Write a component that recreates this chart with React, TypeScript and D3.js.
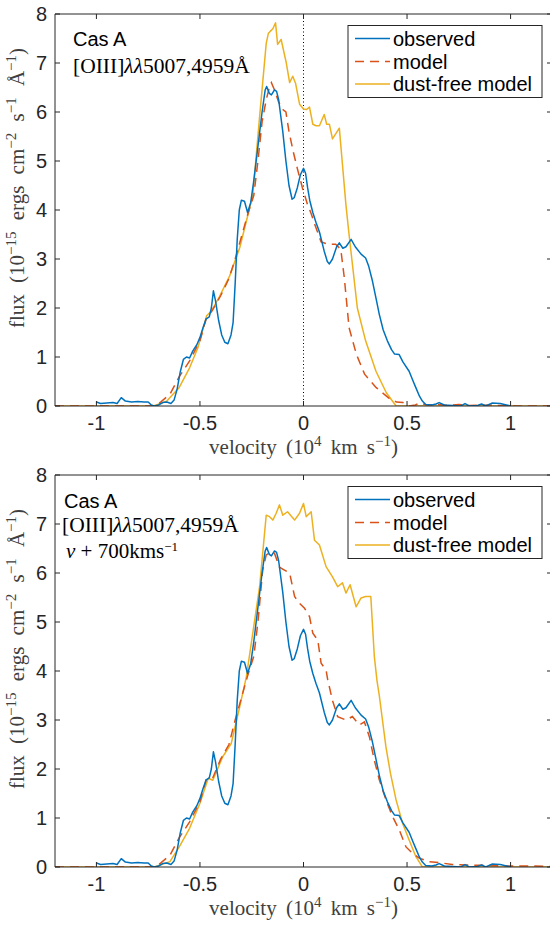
import React from "react";
import * as d3 from "d3";

type P = [number, number];

// velocity (1e4 km/s), flux (1e-15 ergs cm^-2 s^-1 A^-1)
const observed: P[] = [
  [-1.0, 0.08], [-0.98, 0.05], [-0.95, 0.06], [-0.92, 0.07], [-0.9, 0.05], [-0.88, 0.17], [-0.86, 0.1],
  [-0.83, 0.08], [-0.8, 0.09], [-0.77, 0.08], [-0.75, 0.08], [-0.735, 0.02], [-0.72, 0.0], [-0.7, 0.02],
  [-0.68, 0.07], [-0.66, 0.08], [-0.64, 0.05], [-0.625, 0.12], [-0.61, 0.35], [-0.595, 0.7], [-0.58, 0.95],
  [-0.565, 1.0], [-0.55, 0.98], [-0.535, 1.12], [-0.515, 1.25], [-0.5, 1.4], [-0.485, 1.6], [-0.47, 1.78],
  [-0.455, 1.82], [-0.445, 2.0], [-0.435, 2.35], [-0.425, 2.15], [-0.41, 1.75], [-0.395, 1.45], [-0.38, 1.3],
  [-0.365, 1.27], [-0.35, 1.45], [-0.34, 1.7], [-0.33, 2.5], [-0.32, 3.4], [-0.31, 4.0], [-0.3, 4.2],
  [-0.285, 4.18], [-0.27, 3.95], [-0.255, 4.15], [-0.24, 4.6], [-0.22, 5.3], [-0.2, 6.0], [-0.185, 6.45],
  [-0.178, 6.52], [-0.165, 6.38], [-0.155, 6.35], [-0.14, 6.45], [-0.13, 6.42], [-0.12, 6.25], [-0.1, 5.6],
  [-0.085, 5.0], [-0.07, 4.5], [-0.055, 4.22], [-0.045, 4.25], [-0.03, 4.45], [-0.015, 4.72], [0.0, 4.85],
  [0.01, 4.75], [0.02, 4.45], [0.03, 4.2], [0.045, 3.95], [0.06, 3.75], [0.077, 3.55], [0.1, 3.16],
  [0.115, 2.95], [0.125, 2.9], [0.14, 3.0], [0.16, 3.25], [0.173, 3.33], [0.19, 3.22], [0.205, 3.25],
  [0.23, 3.4], [0.25, 3.25], [0.278, 3.1], [0.3, 3.02], [0.315, 2.85], [0.333, 2.55], [0.35, 2.2],
  [0.366, 1.87], [0.385, 1.55], [0.405, 1.33], [0.425, 1.15], [0.44, 1.06], [0.462, 1.05], [0.48, 0.9],
  [0.51, 0.71], [0.53, 0.5], [0.543, 0.37], [0.56, 0.2], [0.574, 0.1], [0.59, 0.03], [0.62, 0.02],
  [0.64, 0.04], [0.655, 0.07], [0.68, 0.02], [0.72, 0.01], [0.76, 0.0], [0.78, 0.05], [0.8, 0.0],
  [0.84, 0.01], [0.86, 0.04], [0.88, 0.0], [0.91, 0.06], [0.95, 0.05], [0.98, 0.02], [1.0, 0.0],
];

const modelTop: P[] = [
  [-1.2, 0], [-0.72, 0], [-0.69, 0.08], [-0.645, 0.24], [-0.6, 0.6], [-0.55, 0.92], [-0.5, 1.33],
  [-0.47, 1.78], [-0.44, 1.95], [-0.4, 2.25], [-0.36, 2.6], [-0.33, 3.0], [-0.3, 3.45], [-0.27, 3.9],
  [-0.24, 4.3], [-0.22, 5.0], [-0.2, 5.8], [-0.18, 6.25], [-0.165, 6.5], [-0.155, 6.6], [-0.14, 6.45],
  [-0.12, 6.2], [-0.1, 6.05], [-0.085, 6.0], [-0.07, 5.6], [-0.05, 5.2], [-0.03, 4.85], [-0.005, 4.45],
  [0.02, 4.1], [0.035, 3.95], [0.055, 3.7], [0.085, 3.35], [0.12, 3.3], [0.155, 3.3], [0.18, 3.2],
  [0.197, 2.62], [0.22, 1.6], [0.255, 1.06], [0.295, 0.65], [0.35, 0.38], [0.415, 0.15], [0.45, 0.08],
  [0.48, 0.07], [0.51, 0.0], [0.54, 0.02], [0.56, 0.06], [0.6, 0.02], [0.65, 0.03], [0.7, 0.01],
  [0.75, 0.03], [0.8, 0.01], [0.9, 0.02], [1.0, 0.0], [1.2, 0.0],
];

const dustFreeTop: P[] = [
  [-1.2, 0], [-0.725, 0], [-0.66, 0.1], [-0.6, 0.38], [-0.55, 0.78], [-0.51, 1.19], [-0.468, 1.84],
  [-0.444, 1.94], [-0.405, 2.24], [-0.357, 2.65], [-0.308, 3.23], [-0.276, 3.77], [-0.245, 4.3],
  [-0.212, 5.9], [-0.18, 7.4], [-0.17, 7.6], [-0.16, 7.65], [-0.148, 7.7], [-0.135, 7.82], [-0.125, 7.38],
  [-0.108, 7.48], [-0.083, 7.0], [-0.067, 6.6], [-0.052, 6.73], [-0.038, 6.58], [-0.019, 6.16], [0.0, 6.06],
  [0.015, 6.05], [0.029, 6.1], [0.045, 5.75], [0.06, 5.72], [0.077, 5.72], [0.1, 5.95], [0.112, 5.75],
  [0.125, 5.75], [0.14, 5.45], [0.173, 5.67], [0.205, 4.1], [0.22, 3.5], [0.26, 2.0], [0.3, 1.33],
  [0.35, 0.71], [0.4, 0.27], [0.447, 0], [1.2, 0],
];

const modelShifted: P[] = [
  [-1.2, 0], [-0.72, 0], [-0.69, 0.08], [-0.645, 0.24], [-0.6, 0.6], [-0.55, 0.92], [-0.5, 1.33],
  [-0.47, 1.78], [-0.44, 1.8], [-0.4, 2.2], [-0.36, 2.5], [-0.33, 3.0], [-0.3, 3.45], [-0.27, 3.9],
  [-0.24, 4.3], [-0.22, 5.0], [-0.197, 6.06], [-0.18, 6.37], [-0.156, 6.43], [-0.14, 6.4], [-0.116, 6.12],
  [-0.092, 6.06], [-0.067, 6.0], [-0.043, 5.52], [-0.019, 5.38], [0.005, 5.28], [0.029, 5.11],
  [0.045, 4.77], [0.069, 4.63], [0.085, 4.16], [0.109, 4.02], [0.117, 3.82], [0.14, 3.4], [0.165, 3.07],
  [0.205, 3.0], [0.236, 3.07], [0.27, 2.9], [0.294, 2.96], [0.318, 2.66], [0.342, 2.18], [0.366, 1.78],
  [0.398, 1.37], [0.43, 1.03], [0.462, 0.76], [0.495, 0.41], [0.526, 0.28], [0.559, 0.18], [0.607, 0.11],
  [0.655, 0.09], [0.718, 0.05], [0.8, 0.04], [0.9, 0.03], [1.0, 0.02], [1.1, 0.02], [1.2, 0.01],
];

const dustFreeShifted: P[] = [
  [-1.2, 0], [-0.72, 0], [-0.645, 0.11], [-0.6, 0.41], [-0.55, 0.79], [-0.5, 1.3], [-0.46, 1.81],
  [-0.438, 1.77], [-0.39, 2.25], [-0.349, 2.52], [-0.308, 3.27], [-0.276, 3.88], [-0.212, 5.72],
  [-0.18, 7.18], [-0.164, 7.15], [-0.148, 7.08], [-0.132, 7.22], [-0.116, 7.39], [-0.1, 7.18],
  [-0.077, 7.25], [-0.043, 7.08], [-0.019, 7.22], [0.0, 7.42], [0.013, 7.15], [0.037, 7.25], [0.053, 6.67],
  [0.077, 6.57], [0.109, 6.13], [0.14, 5.92], [0.165, 5.72], [0.188, 5.8], [0.205, 5.59], [0.225, 5.76],
  [0.254, 5.31], [0.278, 5.49], [0.3, 5.52], [0.325, 5.52], [0.342, 4.3], [0.355, 3.8], [0.366, 3.5],
  [0.398, 2.45], [0.42, 1.91], [0.447, 1.37], [0.478, 0.9], [0.51, 0.55], [0.543, 0.21], [0.574, 0],
  [1.2, 0],
];

const xTicks = [-1, -0.5, 0, 0.5, 1];
const xTickLabels = ["-1", "-0.5", "0", "0.5", "1"];
const yTicks = [0, 1, 2, 3, 4, 5, 6, 7, 8];
const legendLabels = ["observed", "model", "dust-free model"];

const BLUE = "#0072BD";
const RED = "#D95319";
const YELLOW = "#EDB120";
const AX = "#262626";
const SANS = "'Liberation Sans', Arial, Helvetica, sans-serif";
const SERIF = "'Liberation Serif', 'Times New Roman', serif";
const DASH = "9,6";

const X0 = 55;
const X1 = 552;

function Panel(props: {
  id: string;
  top: number;
  bottom: number;
  model: P[];
  dustFree: P[];
  dotted: boolean;
  shifted: boolean;
}) {
  const { id, top, bottom, model, dustFree, dotted, shifted } = props;
  const x = d3.scaleLinear().domain([-1.2, 1.2]).range([X0, X1]);
  const y = d3.scaleLinear().domain([0, 8]).range([bottom, top]);
  const line = d3
    .line<P>()
    .x((d) => x(d[0]))
    .y((d) => y(d[1]));
  const tl = 5;
  const legTop = top + 11.5;
  const rows = [top + 24.5, top + 47.5, top + 70];
  const legendStyles = [
    { c: BLUE, dash: undefined as string | undefined },
    { c: RED, dash: DASH },
    { c: YELLOW, dash: undefined as string | undefined },
  ];
  const midY = (top + bottom) / 2 - 22;
  const sup = 15;
  const up = 8;
  return (
    <g>
      <defs>
        <clipPath id={id}>
          <rect x={X0} y={top} width={X1 - X0} height={bottom - top} />
        </clipPath>
      </defs>
      <g clipPath={`url(#${id})`}>
        {dotted && (
          <line x1={x(0)} x2={x(0)} y1={top} y2={bottom} stroke="#000" strokeWidth={1} strokeDasharray="1,2.5" />
        )}
        <path d={line(dustFree) || ""} fill="none" stroke={YELLOW} strokeWidth={1.5} strokeLinejoin="round" />
        <path d={line(model) || ""} fill="none" stroke={RED} strokeWidth={1.5} strokeDasharray={DASH} />
        <path d={line(observed) || ""} fill="none" stroke={BLUE} strokeWidth={1.5} strokeLinejoin="round" />
      </g>
      {/* axes box */}
      <line x1={X0} x2={X1} y1={bottom} y2={bottom} stroke={AX} strokeWidth={1} />
      <line x1={X0} x2={X1} y1={top} y2={top} stroke={AX} strokeWidth={1} />
      <line x1={X0} x2={X0} y1={top} y2={bottom} stroke={AX} strokeWidth={1} />
      <line x1={X1} x2={X1} y1={top} y2={bottom} stroke={AX} strokeWidth={1} />
      {xTicks.map((t, i) => (
        <g key={"x" + t}>
          <line x1={x(t)} x2={x(t)} y1={bottom} y2={bottom - tl} stroke={AX} />
          <line x1={x(t)} x2={x(t)} y1={top} y2={top + tl} stroke={AX} />
          <text x={x(t)} y={bottom + 24} textAnchor="middle" fontFamily={SANS} fontSize={20} fill={AX}>
            {xTickLabels[i]}
          </text>
        </g>
      ))}
      {yTicks.map((t) => (
        <g key={"y" + t}>
          <line x1={X0} x2={X0 + tl} y1={y(t)} y2={y(t)} stroke={AX} />
          <line x1={X1} x2={X1 - tl} y1={y(t)} y2={y(t)} stroke={AX} />
          <text x={47} y={y(t) + 7} textAnchor="end" fontFamily={SANS} fontSize={20} fill={AX}>
            {t}
          </text>
        </g>
      ))}
      {/* x label */}
      <text
        x={x(0)}
        y={bottom + 48}
        textAnchor="middle"
        fontFamily={SERIF}
        fontSize={21}
        wordSpacing={4}
        fill="#404040"
      >
        velocity (10<tspan dy={-up} fontSize={sup}>4</tspan>
        <tspan dy={up}> km s</tspan>
        <tspan dy={-up} fontSize={sup}>−1</tspan>
        <tspan dy={up}>)</tspan>
      </text>
      {/* y label */}
      <text
        transform={`translate(24,${midY}) rotate(-90)`}
        textAnchor="middle"
        fontFamily={SERIF}
        fontSize={21}
        wordSpacing={6}
        fill="#404040"
      >
        flux (10<tspan dy={-up} fontSize={sup}>−15</tspan>
        <tspan dy={up}> ergs cm</tspan>
        <tspan dy={-up} fontSize={sup}>−2</tspan>
        <tspan dy={up}> s</tspan>
        <tspan dy={-up} fontSize={sup}>−1</tspan>
        <tspan dy={up}> Å</tspan>
        <tspan dy={-up} fontSize={sup}>−1</tspan>
        <tspan dy={up}>)</tspan>
      </text>
      {/* annotations */}
      {!shifted ? (
        <g>
          <text x={73} y={top + 32} fontFamily={SANS} fontSize={20} fill="#000">Cas A</text>
          <text x={73} y={top + 59} fontFamily={SERIF} fontSize={21.5} fill="#000">
            [OIII]<tspan fontStyle="italic">λλ</tspan>5007,4959Å
          </text>
        </g>
      ) : (
        <g>
          <text x={64} y={top + 33} fontFamily={SANS} fontSize={20} fill="#000">Cas A</text>
          <text x={62} y={top + 57} fontFamily={SERIF} fontSize={21.5} fill="#000">
            [OIII]<tspan fontStyle="italic">λλ</tspan>5007,4959Å
          </text>
          <text x={66} y={top + 83} fontFamily={SERIF} fontSize={21} fill="#000">
            <tspan fontStyle="italic">v</tspan> + 700kms<tspan dy={-7} fontSize={13}>−1</tspan>
          </text>
        </g>
      )}
      {/* legend */}
      <rect x={348} y={legTop} width={194} height={72} fill="#fff" stroke={AX} strokeWidth={1} />
      {legendLabels.map((lab, i) => (
        <g key={lab}>
          <line
            x1={355}
            x2={390}
            y1={rows[i]}
            y2={rows[i]}
            stroke={legendStyles[i].c}
            strokeWidth={1.5}
            strokeDasharray={legendStyles[i].dash}
          />
          <text x={393} y={rows[i] + 7} fontFamily={SANS} fontSize={20} fill="#000">
            {lab}
          </text>
        </g>
      ))}
    </g>
  );
}

export default function App() {
  return (
    <svg
      width={550}
      height={925}
      style={{ position: "absolute", left: 0, top: 0, background: "#fff" }}
    >
      <rect width={550} height={925} fill="#fff" />
      <Panel id="clipTop" top={14} bottom={406} model={modelTop} dustFree={dustFreeTop} dotted={true} shifted={false} />
      <Panel
        id="clipBot"
        top={475}
        bottom={867}
        model={modelShifted}
        dustFree={dustFreeShifted}
        dotted={false}
        shifted={true}
      />
    </svg>
  );
}
